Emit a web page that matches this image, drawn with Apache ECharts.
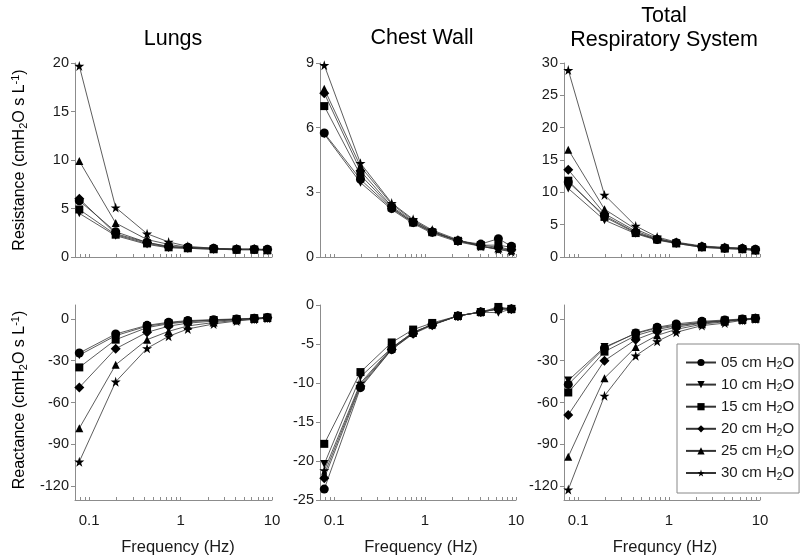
<!DOCTYPE html>
<html><head><meta charset="utf-8">
<script src="https://cdn.jsdelivr.net/npm/echarts@6/dist/echarts.min.js"></script>
<style>html,body{margin:0;padding:0;background:#fff}#c{width:800px;height:555px}</style>
</head><body><div id="c"></div>
<script>
// ---- data ----
const freqHz = [0.078, 0.195, 0.43, 0.74, 1.2, 2.3, 4.1, 6.4, 8.9];
const seriesNames = ['05 cm H2O', '10 cm H2O', '15 cm H2O', '20 cm H2O', '25 cm H2O', '30 cm H2O'];
const xLabelValues = [0.1, 1, 10];
const xTickValues = [0.07, 0.08, 0.09, 0.1, 0.2, 0.3, 0.4, 0.5, 0.6, 0.7, 0.8, 0.9, 1, 2, 3, 4, 5, 6, 7, 8, 9, 10];
const reactanceTicks = [-120, -90, -60, -30, 0];

const lungsResistance = [
  [5.8, 2.6, 1.5, 1.1, 1.0, 0.9, 0.8, 0.8, 0.8],
  [4.5, 2.2, 1.3, 0.95, 0.9, 0.8, 0.75, 0.75, 0.7],
  [4.9, 2.3, 1.4, 1.0, 0.9, 0.8, 0.75, 0.75, 0.7],
  [6.0, 2.4, 1.5, 1.05, 0.95, 0.85, 0.8, 0.8, 0.75],
  [9.9, 3.5, 1.8, 1.3, 1.0, 0.9, 0.8, 0.8, 0.75],
  [19.7, 5.1, 2.4, 1.55, 1.1, 0.9, 0.8, 0.8, 0.75]
];
const chestResistance = [
  [5.75, 3.6, 2.25, 1.6, 1.15, 0.75, 0.6, 0.85, 0.5],
  [5.7, 3.45, 2.2, 1.55, 1.1, 0.7, 0.5, 0.35, 0.3],
  [7.0, 3.8, 2.3, 1.6, 1.15, 0.75, 0.55, 0.55, 0.45],
  [7.6, 4.0, 2.35, 1.65, 1.2, 0.75, 0.55, 0.45, 0.35],
  [7.8, 4.2, 2.45, 1.7, 1.2, 0.75, 0.5, 0.4, 0.3],
  [8.9, 4.35, 2.5, 1.75, 1.25, 0.8, 0.5, 0.35, 0.25]
];
const totalResistance = [
  [11.6, 6.4, 3.8, 2.7, 2.2, 1.6, 1.4, 1.3, 1.2],
  [10.6, 5.7, 3.6, 2.6, 2.1, 1.5, 1.3, 1.2, 1.0],
  [11.8, 6.2, 3.7, 2.7, 2.1, 1.5, 1.3, 1.2, 1.0],
  [13.5, 6.7, 4.0, 2.8, 2.2, 1.6, 1.4, 1.3, 1.1],
  [16.6, 7.4, 4.3, 2.9, 2.2, 1.6, 1.4, 1.3, 1.1],
  [28.9, 9.6, 4.8, 3.1, 2.3, 1.7, 1.5, 1.4, 1.2]
];
const lungsReactance = [
  [-24.5, -10.8, -4.6, -2.4, -1.2, -0.5, 0, 0.5, 1],
  [-26, -12, -5.2, -3, -1.6, -0.8, -0.2, 0.4, 0.9],
  [-34.8, -14.9, -6.2, -3.5, -2, -1, -0.3, 0.3, 0.9],
  [-49.2, -21.4, -9.6, -5.2, -3, -1.6, -0.6, 0.2, 0.8],
  [-78.5, -32.9, -14.9, -8.9, -5, -2.6, -1, 0, 0.7],
  [-102.5, -45.1, -21.1, -12.5, -7.2, -3.6, -1.5, -0.3, 0.5]
];
const chestReactance = [
  [-23.6, -10.6, -5.7, -3.6, -2.5, -1.4, -0.9, -0.5, -0.5],
  [-20.4, -9.2, -5.5, -3.5, -2.5, -1.4, -0.9, -1.0, -0.5],
  [-17.8, -8.6, -4.8, -3.15, -2.3, -1.4, -0.9, -0.25, -0.5],
  [-22.2, -10.4, -5.7, -3.7, -2.6, -1.4, -0.9, -0.5, -0.5],
  [-21.7, -10.2, -5.6, -3.6, -2.5, -1.4, -0.9, -0.5, -0.5],
  [-21.2, -10.0, -5.5, -3.5, -2.5, -1.4, -0.9, -0.5, -0.5]
];
const totalReactance = [
  [-47, -20.9, -10.1, -6, -3.6, -1.7, -0.8, 0, 0.5],
  [-44.2, -20.2, -10.5, -6.5, -4.5, -2.3, -1.2, -0.3, 0.4],
  [-52.8, -23.5, -12, -7.5, -5, -2.6, -1.4, -0.4, 0.3],
  [-68.9, -30, -14.9, -9, -6, -3, -1.6, -0.5, 0.3],
  [-98.9, -42.5, -20.2, -11.8, -7.5, -3.8, -2, -0.7, 0.2],
  [-122.5, -55.2, -26.4, -16.1, -9.6, -4.8, -3, -1, 0]
];

// ---- styling ----
const FONT = 'Liberation Sans, Arial, sans-serif';
const STAR = 'path://M50,0 L61,35 L98,35 L68,57 L79,91 L50,70 L21,91 L32,57 L2,35 L39,35 Z';
const symbols = [
  {symbol: 'circle', size: 9, rotate: 0},
  {symbol: 'triangle', size: 8, rotate: 180},
  {symbol: 'rect', size: 8, rotate: 0},
  {symbol: 'diamond', size: 10, rotate: 0},
  {symbol: 'triangle', size: 8, rotate: 0},
  {symbol: STAR, size: 10, rotate: 0}
];

const panels = [
  {data: lungsResistance, grid: {left: 75, top: 63, width: 197, height: 194}, y: {min: 0, max: 20, interval: 5}, bottom: false},
  {data: chestResistance, grid: {left: 320, top: 63, width: 196, height: 194}, y: {min: 0, max: 9, interval: 3}, bottom: false},
  {data: totalResistance, grid: {left: 564, top: 63, width: 196, height: 194}, y: {min: 0, max: 30, interval: 5}, bottom: false},
  {data: lungsReactance, grid: {left: 75, top: 305, width: 197, height: 195}, y: {min: -130, max: 10, custom: reactanceTicks}, bottom: true},
  {data: chestReactance, grid: {left: 320, top: 305, width: 196, height: 195}, y: {min: -25, max: 0, interval: 5}, bottom: true},
  {data: totalReactance, grid: {left: 564, top: 305, width: 196, height: 195}, y: {min: -130, max: 10, custom: reactanceTicks}, bottom: true}
];

const axisColor = '#8c8c8c';
const grids = [], xAxes = [], yAxes = [], series = [];
panels.forEach((p, i) => {
  grids.push(p.grid);
  xAxes.push({
    type: 'log', gridIndex: i, min: 0.07, max: 10,
    axisLine: {show: true, onZero: false, lineStyle: {color: axisColor, width: 1}},
    axisTick: {show: true, inside: true, length: 3, customValues: xTickValues, lineStyle: {color: axisColor}},
    axisLabel: {show: p.bottom, customValues: xLabelValues, margin: 13, fontSize: 15, color: '#1a1a1a', fontFamily: FONT,
      formatter: v => String(v)},
    splitLine: {show: false}, minorTick: {show: false}
  });
  const ya = {
    type: 'value', gridIndex: i, min: p.y.min, max: p.y.max,
    axisLine: {show: true, lineStyle: {color: axisColor, width: 1}},
    axisTick: {show: true, inside: false, length: 4, lineStyle: {color: axisColor}},
    axisLabel: {fontSize: 14.5, color: '#1a1a1a', margin: 6, fontFamily: FONT},
    splitLine: {show: false}
  };
  if (p.y.custom) {
    ya.axisTick.customValues = p.y.custom;
    ya.axisLabel.customValues = p.y.custom;
  } else {
    ya.interval = p.y.interval;
  }
  yAxes.push(ya);
  p.data.forEach((vals, k) => {
    series.push({
      type: 'line', name: seriesNames[k], xAxisIndex: i, yAxisIndex: i,
      data: freqHz.map((f, j) => [f, vals[j]]),
      symbol: symbols[k].symbol, symbolSize: symbols[k].size, symbolRotate: symbols[k].rotate,
      showAllSymbol: true,
      lineStyle: {color: '#333', width: 0.8},
      itemStyle: {color: '#000'},
      emphasis: {disabled: true},
      animation: false
    });
  });
});

const mkRich = (fs) => ({
  n: {fontSize: fs, lineHeight: fs + 3, color: '#1a1a1a', fontFamily: FONT},
  s: {fontSize: Math.round(fs * 0.66), lineHeight: Math.round(fs * 0.66), verticalAlign: 'bottom', color: '#1a1a1a', fontFamily: FONT},
  p: {fontSize: Math.round(fs * 0.66), lineHeight: Math.round(fs * 0.66), verticalAlign: 'top', color: '#1a1a1a', fontFamily: FONT}
});

const titleStyle = (text, x, y) => ({
  type: 'text', x: x, y: y,
  style: {text: text, fontSize: 21.5, fontFamily: FONT, fill: '#000', align: 'center', verticalAlign: 'middle'}
});
const xNameStyle = (text, x) => ({
  type: 'text', x: x, y: 547,
  style: {text: text, fontSize: 16.5, fontFamily: FONT, fill: '#1a1a1a', align: 'center', verticalAlign: 'middle'}
});

const option = {
  backgroundColor: '#fff',
  animation: false,
  grid: grids, xAxis: xAxes, yAxis: yAxes, series: series,
  legend: {
    orient: 'vertical', left: 677, top: 344,
    padding: [11, 5, 11, 8],
    borderColor: '#888', borderWidth: 1, backgroundColor: '#fff',
    itemWidth: 30, itemHeight: 9, itemGap: 5.6,
    data: seriesNames,
    formatter: name => '{n|' + name.replace(' H2O', ' H') + '}{s|2}{n|O}',
    textStyle: {rich: mkRich(15), fontFamily: FONT},
    selectedMode: false
  },
  graphic: [
    titleStyle('Lungs', 173, 39),
    titleStyle('Chest Wall', 422, 38),
    titleStyle('Total', 664, 16),
    titleStyle('Respiratory System', 664, 40),
    xNameStyle('Frequency (Hz)', 178),
    xNameStyle('Frequency (Hz)', 421),
    xNameStyle('Frequncy (Hz)', 665),
    {type: 'text', x: 20, y: 160, rotation: Math.PI / 2,
     style: {text: '{n|Resistance (cmH}{s|2}{n|O s L}{p|-1}{n|)}', rich: mkRich(16), align: 'center', verticalAlign: 'middle'}},
    {type: 'text', x: 20, y: 400, rotation: Math.PI / 2,
     style: {text: '{n|Reactance (cmH}{s|2}{n|O s L}{p|-1}{n|)}', rich: mkRich(16), align: 'center', verticalAlign: 'middle'}}
  ]
};

const chart = echarts.init(document.getElementById('c'), null, {renderer: 'canvas'});
chart.setOption(option);
</script>
</body></html>
